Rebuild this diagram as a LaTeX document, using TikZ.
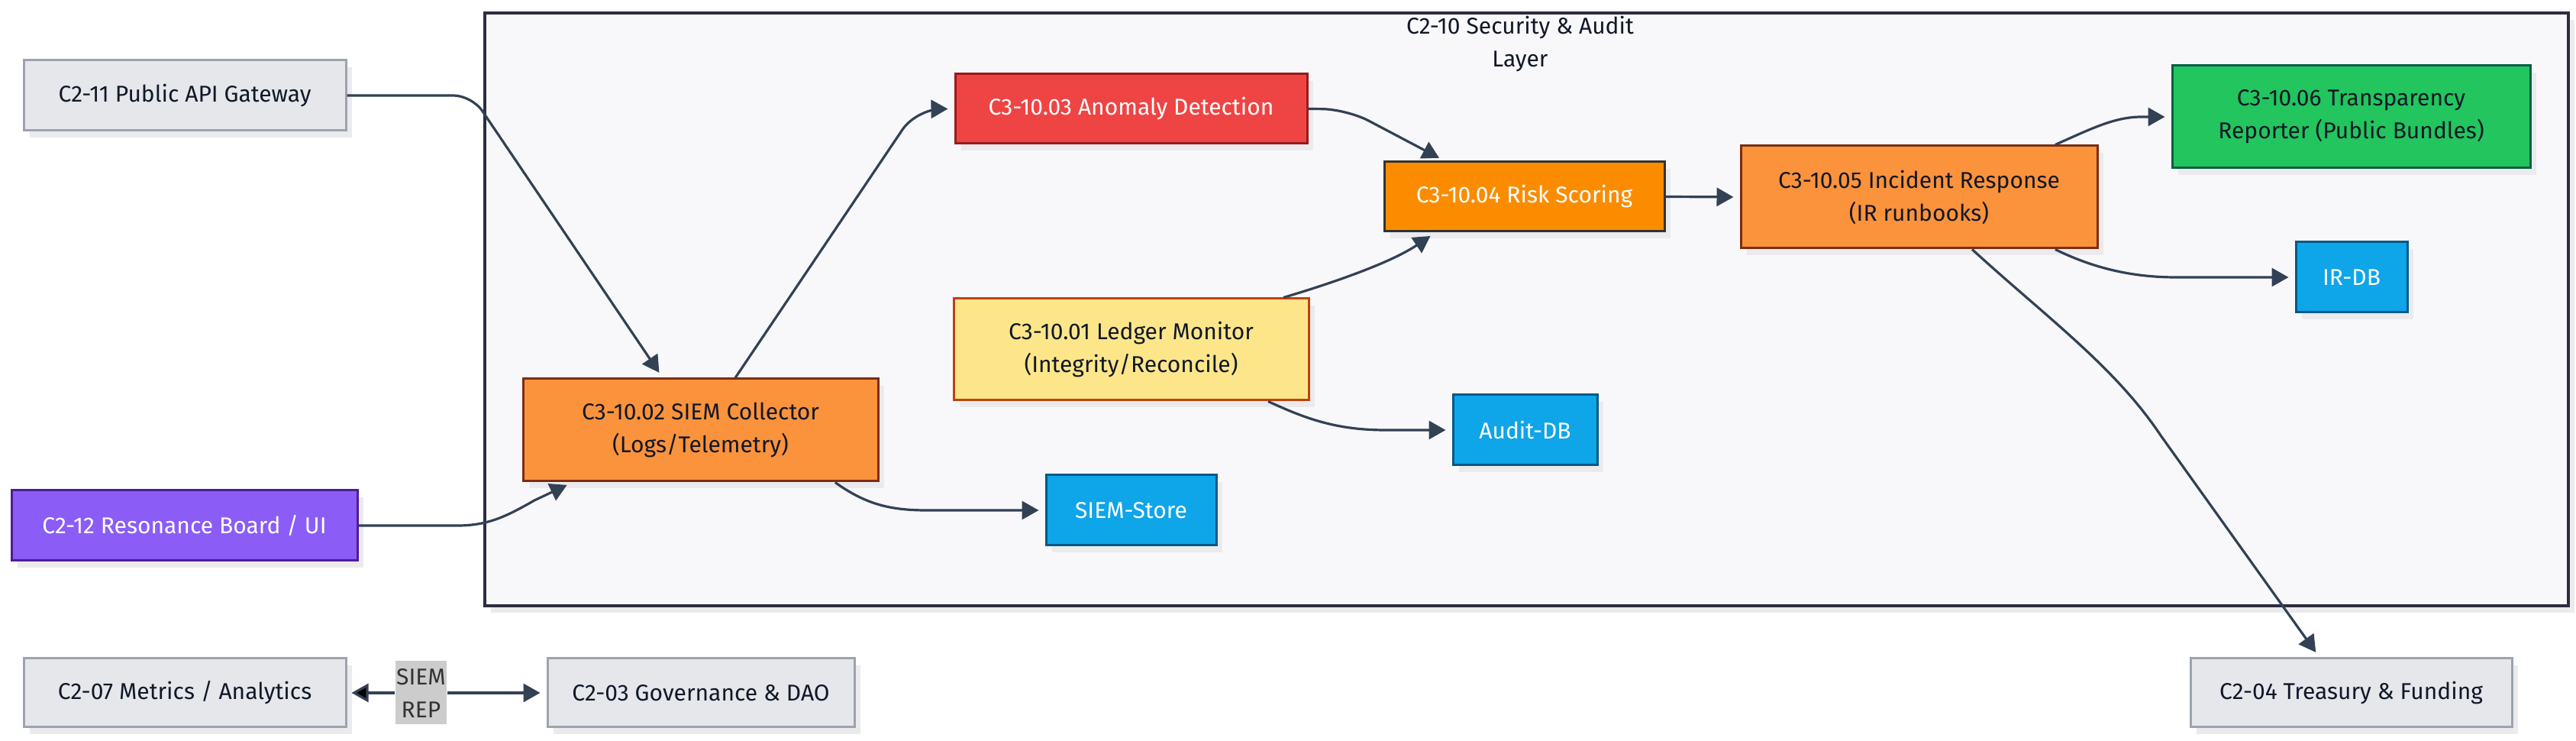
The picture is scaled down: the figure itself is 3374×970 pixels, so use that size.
\documentclass[tikz,border=0pt]{standalone}
\usepackage{fontspec}
\setmainfont{Fira Sans}
\usetikzlibrary{arrows.meta,shadows}
\definecolor{extfill}{HTML}{E5E7EB}
\definecolor{extdraw}{HTML}{9CA3AF}
\definecolor{textdark}{HTML}{111827}
\definecolor{clusterfill}{HTML}{F8F8FA}
\definecolor{clusterdraw}{HTML}{2D2D40}
\definecolor{anofill}{HTML}{EF4444}
\definecolor{anodraw}{HTML}{991B1B}
\definecolor{riskfill}{HTML}{FB8C00}
\definecolor{riskdraw}{HTML}{333333}
\definecolor{orfill}{HTML}{FB923C}
\definecolor{ordraw}{HTML}{7C2D12}
\definecolor{ledfill}{HTML}{FDE68A}
\definecolor{leddraw}{HTML}{C2410C}
\definecolor{trfill}{HTML}{22C55E}
\definecolor{trdraw}{HTML}{065F46}
\definecolor{dbfill}{HTML}{0EA5E9}
\definecolor{dbdraw}{HTML}{075985}
\definecolor{rbfill}{HTML}{8B5CF6}
\definecolor{rbdraw}{HTML}{4C1D95}
\definecolor{edgec}{HTML}{334155}
\definecolor{labelbg}{HTML}{CCCCCC}
\definecolor{labeltext}{HTML}{333333}
\definecolor{shadowc}{HTML}{EBEBEE}
\begin{document}
\begin{tikzpicture}[x=0.25pt,y=-0.25pt,
  font=\fontsize{7.5pt}{10.75pt}\selectfont,
  sz/.style 2 args={minimum width=#1*0.25pt, minimum height=#2*0.25pt},
  base/.style={draw, line width=0.75pt, inner sep=0pt, align=center, text=textdark,
     drop shadow={shadow xshift=2pt, shadow yshift=-2.25pt, fill=shadowc, opacity=1}},
  ext/.style={base, fill=extfill, draw=extdraw},
  ano/.style={base, fill=anofill, draw=anodraw, text=white},
  risk/.style={base, fill=riskfill, draw=riskdraw, text=white},
  orng/.style={base, fill=orfill, draw=ordraw},
  ledg/.style={base, fill=ledfill, draw=leddraw},
  trn/.style={base, fill=trfill, draw=trdraw},
  db/.style={base, fill=dbfill, draw=dbdraw, text=white},
  rbs/.style={base, fill=rbfill, draw=rbdraw, text=white},
  clus/.style={base, fill=clusterfill, draw=clusterdraw, line width=1pt},
  edge/.style={draw=edgec, line width=0.8pt, -{Triangle[length=5.5pt,width=6pt]}, shorten >=2pt},
  lbl/.style={fill=labelbg, text=labeltext, inner sep=0pt, align=center}
]
\useasboundingbox (0,0) rectangle (3374,970);

% cluster
\node[clus, sz={2729}{776}] (layer) at (1999.5,405) {};
\node[align=center, text=textdark] (title) at (1991,58) {C2-10 Security \& Audit\\Layer};

% external nodes
\node[ext, sz={422}{92}] (gw) at (242,125) {C2-11 Public API Gateway};
\node[rbs, sz={453}{92}] (rb) at (241.5,688) {C2-12 Resonance Board / UI};
\node[ext, sz={422}{90}] (met) at (242,907) {C2-07 Metrics / Analytics};
\node[ext, sz={402}{90}] (gov) at (918,907) {C2-03 Governance \& DAO};
\node[ext, sz={421}{90}] (tre) at (3079.5,907) {C2-04 Treasury \& Funding};

% inner nodes
\node[orng, sz={465}{134}] (col) at (917.5,563) {C3-10.02 SIEM Collector\\(Logs/Telemetry)};
\node[ano, sz={461}{91}] (ano) at (1481.5,142.5) {C3-10.03 Anomaly Detection};
\node[ledg, sz={465}{133}] (led) at (1481.5,457.5) {C3-10.01 Ledger Monitor\\(Integrity/Reconcile)};
\node[risk, sz={367}{91}] (risk) at (1996.5,257.5) {C3-10.04 Risk Scoring};
\node[orng, sz={467}{134}] (inc) at (2513.5,258) {C3-10.05 Incident Response\\(IR runbooks)};
\node[trn, sz={469}{134}] (tr) at (3079.5,153) {C3-10.06 Transparency\\Reporter (Public Bundles)};
\node[db, sz={146}{92}] (irdb) at (3080,363) {IR-DB};
\node[db, sz={189}{92}] (audit) at (1997.5,563) {Audit-DB};
\node[db, sz={223}{92}] (store) at (1481.5,668) {SIEM-Store};

% edges
\draw[edge, rounded corners=6pt] (gw.east) -- (618,125) -- ([xshift=-12.4pt]col.north);
\draw[edge, rounded corners=8pt] ([xshift=11.4pt]col.north) -- (1200,143) -- (ano.west);
\draw[edge] (rb.east) -- (600,688) .. controls (640,688) and (665,675) .. (700,655) -- ([xshift=-41.9pt]col.south);
\draw[edge] ([xshift=44.1pt]col.south) .. controls (1150,672) and (1190,668) .. (1250,668) -- (store.west);
\draw[edge, rounded corners=8pt] (ano.east) -- (1764,143) -- ([xshift=-26.1pt]risk.north);
\draw[edge] ([xshift=49.9pt]led.north) .. controls (1740,372) and (1820,345) .. ([xshift=-29.1pt]risk.south);
\draw[edge] ([xshift=44.9pt]led.south) .. controls (1710,548) and (1750,563) .. (1815,563) -- (audit.west);
\draw[edge] (risk.east) -- (inc.west);
\draw[edge] ([xshift=44.6pt]inc.north) .. controls (2740,168) and (2770,153) .. (2805,153) -- (tr.west);
\draw[edge] ([xshift=44.6pt]inc.south) .. controls (2740,350) and (2790,363) .. (2850,363) -- (irdb.west);
\draw[edge] ([xshift=17.4pt]inc.south) .. controls (2680,415) and (2770,480) .. (2830,570) -- ([xshift=-10.4pt]tre.north);

% metrics / governance
\node[lbl, sz={67}{83}] (rep) at (551.5,907) {SIEM\\REP};
\draw[edge, -{Triangle[length=5.5pt,width=6pt,fill=black]}, shorten >=1.5pt] (rep.west) -- (met.east);
\draw[edge] (rep.east) -- (gov.west);
\end{tikzpicture}
\end{document}
